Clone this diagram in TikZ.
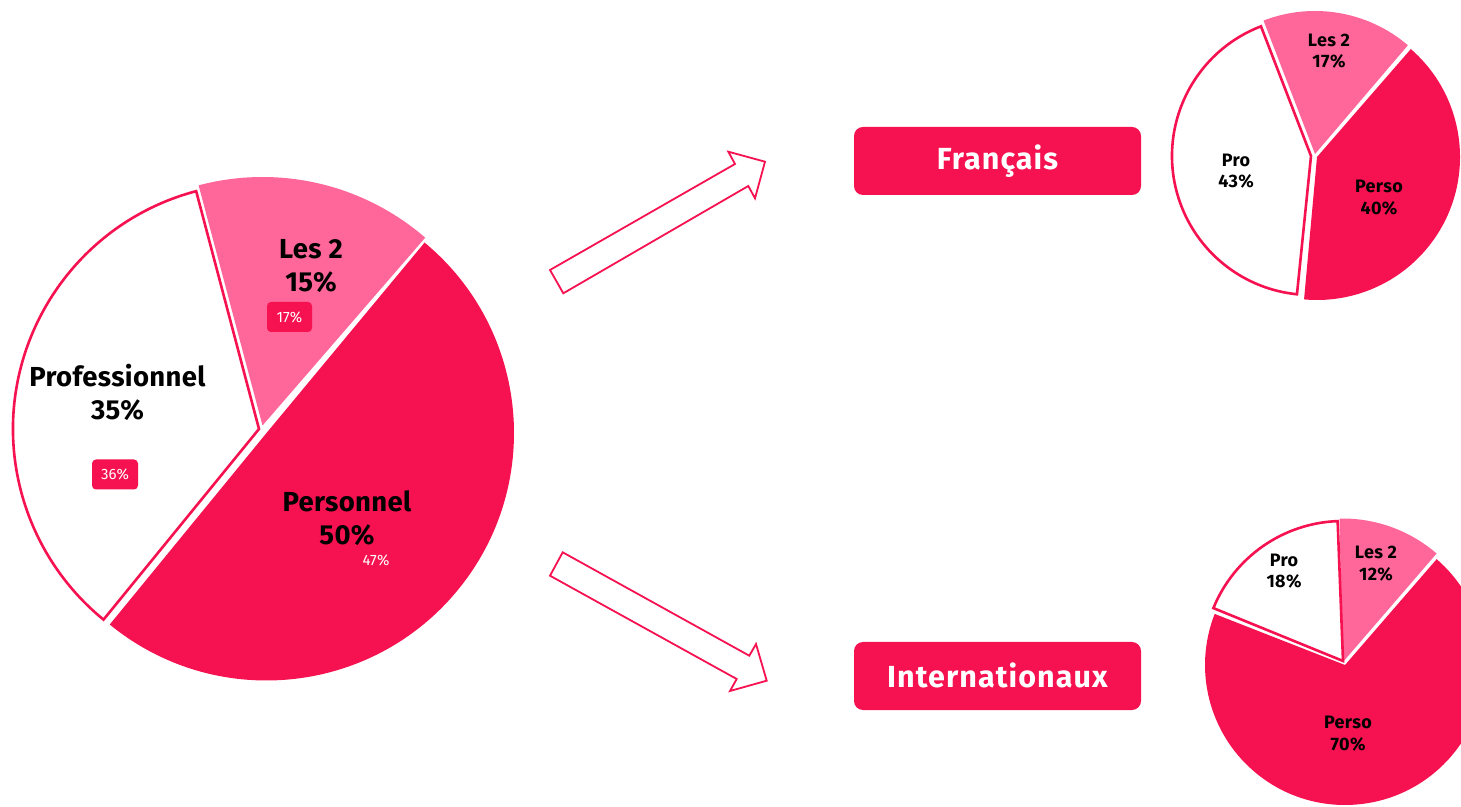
\documentclass[tikz,border=0pt]{standalone}
\usepackage{fontspec}
\setmainfont{Fira Sans}
\definecolor{rougeA}{HTML}{F61250}
\definecolor{roseA}{HTML}{FF6699}
% \pieslice{style}{cx}{cy (from the top)}{r}{start}{end}
\newcommand{\pieslice}[6]{%
  \pgfmathsetmacro{\cyup}{806-#3}%
  \draw[#1] (#2,\cyup) -- ++(#5:#4pt) arc[start angle=#5,end angle=#6,radius=#4pt] -- cycle;%
}
\begin{document}
\begin{tikzpicture}[x=1pt,y=1pt,
  wedgered/.style={fill=rougeA,draw=none},
  wedgepink/.style={fill=roseA,draw=none},
  wedgewhite/.style={fill=white,draw=rougeA,line width=2.6pt,line join=miter},
  blockarrow/.style={fill=white,draw=rougeA,line width=1.8pt,line join=miter},
  titlebox/.style={fill=rougeA,draw=none,rounded corners=9pt,minimum width=287pt,minimum height=68pt,inner sep=0pt,text=white,font=\fontsize{30.5}{36}\selectfont\bfseries\addfontfeature{LetterSpace=3.5}},
  badge/.style={fill=rougeA,draw=none,rounded corners=4pt,minimum width=46pt,minimum height=30pt,inner sep=0pt,text=white,font=\fontsize{15}{16}\selectfont},
  biglabel/.style={align=center,inner sep=0pt,text=black,font=\fontsize{27.5}{33}\selectfont\bfseries\addfontfeature{LetterSpace=1.2}},
  smalllabel/.style={align=center,inner sep=0pt,text=black,font=\fontsize{18}{21.5}\selectfont\bfseries\addfontfeature{LetterSpace=2}}]
\useasboundingbox (0,0) rectangle (1461,806);
\clip (0,0) rectangle (1461,806);

% big pie
\pieslice{wedgered}{266.5}{433}{247.5}{50.3}{-129.3}
\pieslice{wedgepink}{262.5}{425.5}{248.5}{104.9}{49.1}
\pieslice{wedgewhite}{259}{429}{246}{104.8}{230.8}

% Français pie
\pieslice{wedgered}{1317}{157}{143}{49}{-95.2}
\pieslice{wedgepink}{1315}{154}{143}{111.1}{49.5}
\pieslice{wedgewhite}{1311}{156}{139}{111.1}{264.2}

% Internationaux pie
\pieslice{wedgered}{1345}{665}{140}{49.1}{-201.4}
\pieslice{wedgepink}{1342.5}{662.5}{144}{91.2}{49.2}
\pieslice{wedgewhite}{1343}{661}{140}{92.2}{157.8}

% block arrows
\draw[blockarrow] (550,536) -- (563.3,512.7) -- (748.3,620) -- (755,607.7) -- (765,644.3) -- (728.3,654.3) -- (735,642) -- cycle;
\draw[blockarrow] (562.7,253.7) -- (749.3,150.3) -- (756,162) -- (766.7,125.3) -- (730,115) -- (736.7,127) -- (550,230.3) -- cycle;

% title boxes
\node[titlebox] (fr) at (997.5,645) {\raisebox{-1pt}{Français}};
\node[titlebox] (intl) at (997.5,130) {\raisebox{1pt}{Internationaux}};

% badges
\node[badge,minimum width=45pt] (b17) at (289.5,489) {17\%};
\node[badge] (b36) at (115,331.5) {36\%};
\node[inner sep=0pt,text=white,font=\fontsize{15}{16}\selectfont] (b47) at (376,245.5) {47\%};

% big pie labels
\node[biglabel] (lbl2) at (311,540) {Les 2\\15\%};
\node[biglabel] (lpro) at (117.5,413.5) {Professionnel\\35\%};
\node[biglabel] (lper) at (347,288) {Personnel\\50\%};

% small pie labels
\node[smalllabel] (f1) at (1329,755) {Les 2\\17\%};
\node[smalllabel] (f2) at (1236,635) {Pro\\43\%};
\node[smalllabel] (f3) at (1379,608.5) {Perso\\40\%};
\node[smalllabel] (i1) at (1376,242.5) {Les 2\\12\%};
\node[smalllabel] (i2) at (1284,235) {Pro\\18\%};
\node[smalllabel] (i3) at (1348,72.5) {Perso\\70\%};
\end{tikzpicture}
\end{document}
